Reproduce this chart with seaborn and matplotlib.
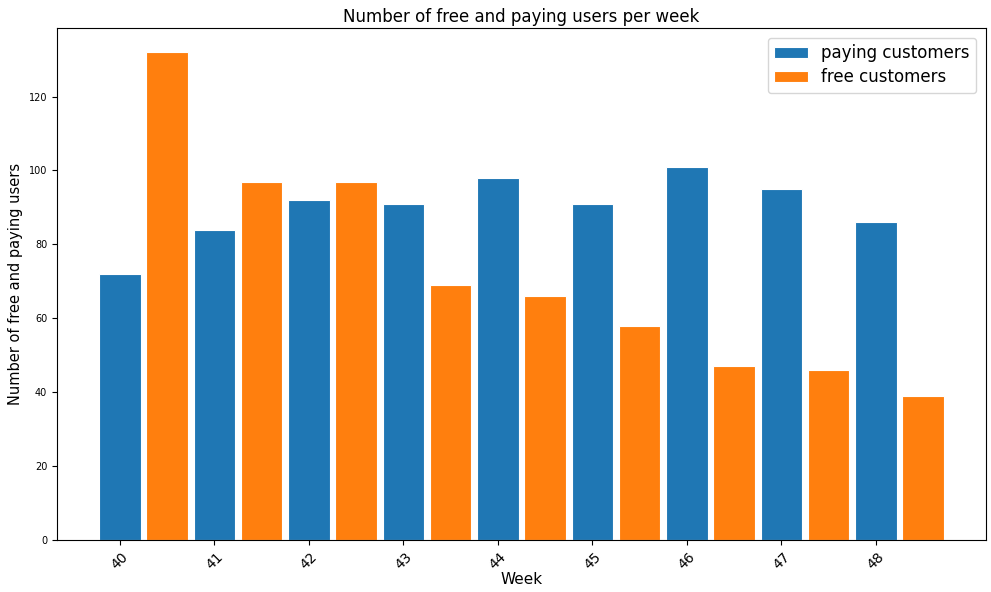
import pandas as pd
import matplotlib
matplotlib.use("Agg")
import matplotlib.pyplot as plt
import seaborn as sns

weeks = [40, 41, 42, 43, 44, 45, 46, 47, 48]
paying = [72, 84, 92, 91, 98, 91, 101, 95, 86]
free = [132, 97, 97, 69, 66, 58, 47, 46, 39]

# long table, free bars shifted half a week to the right
df = pd.DataFrame({
    "pos": [w for w in weeks] + [w + 0.5 for w in weeks],
    "users": paying + free,
    "kind": ["paying customers"] * len(weeks) + ["free customers"] * len(weeks),
})

fig, ax = plt.subplots(figsize=(9.91, 5.92), dpi=100)
fig.subplots_adjust(left=0.0575, right=0.995, bottom=0.088, top=0.953)

sns.barplot(data=df, x="pos", y="users", hue="kind", native_scale=True,
            dodge=False, width=0.88, palette=["#1f77b4", "#ff7f0e"],
            edgecolor="white", linewidth=0.8, saturation=1, errorbar=None, ax=ax)

ax.set_xticks(weeks)
ax.set_xticklabels([str(w) for w in weeks], rotation=45, fontsize=10)
ax.tick_params(axis="y", labelsize=7)
ax.set_xlabel("Week", fontsize=11, labelpad=0)
ax.set_ylabel("Number of free and paying users", fontsize=10.5)
ax.set_title("Number of free and paying users per week", fontsize=12, pad=4)
ax.margins(x=0.05, y=0.05)
ax.legend(loc="upper right", fontsize=12, borderaxespad=0.6, labelspacing=0.35)

plt.savefig("out.png", dpi=100)
